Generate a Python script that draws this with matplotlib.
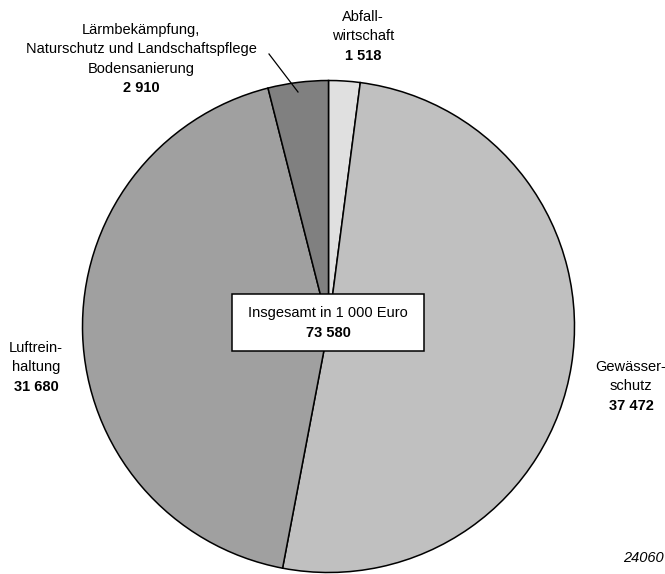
import matplotlib.pyplot as plt
from matplotlib.patches import Rectangle

# Umweltschutzausgaben in 1 000 Euro
categories = ['Abfall-\nwirtschaft', 'Gewässer-\nschutz', 'Luftrein-\nhaltung',
              'Lärmbekämpfung,\nNaturschutz und Landschaftspflege\nBodensanierung']
values = [1518, 37472, 31680, 2910]
colors = ['#e0e0e0', '#c0c0c0', '#a0a0a0', '#808080']
total_label = 'Insgesamt in 1 000 Euro'
code = '24060'

W, H = 665, 574


def fmt(v):
    return f'{v:,}'.replace(',', ' ')


plt.rcParams['font.family'] = ['Liberation Sans', 'DejaVu Sans']

fig = plt.figure(figsize=(W / 100, H / 100), dpi=100)
ax = fig.add_axes([0, 0, 1, 1])
ax.set_xlim(0, W)
ax.set_ylim(0, H)
ax.set_aspect('equal')
ax.axis('off')

ax.pie(values, colors=colors, startangle=90, counterclock=False,
       center=(328.5, H - 326.5), radius=246,
       wedgeprops={'edgecolor': 'black', 'linewidth': 1.1})
ax.set_xlim(0, W)
ax.set_ylim(0, H)

# label positions (pixel coords from top-left): centre x, top line centre y
label_pos = [(363, 17), (631, 367), (36, 348), (141, 30)]
fs = 10.5
step = 19.5
for name, v, (x, y) in zip(categories, values, label_pos):
    lines = name.split('\n')
    for i, line in enumerate(lines):
        ax.text(x, H - (y + i * step), line, ha='center', va='center', fontsize=fs)
    ax.text(x, H - (y + len(lines) * step), fmt(v), ha='center', va='center',
            fontsize=fs, fontweight='bold')

# leader line for the small slice
ax.plot([269, 298], [H - 54, H - 92], color='black', lw=0.9)

# total box in the middle
ax.add_patch(Rectangle((232, H - 351), 192, 57, facecolor='white',
                       edgecolor='black', lw=1.1, zorder=5))
ax.text(328, H - 313, total_label, ha='center', va='center', fontsize=fs, zorder=6)
ax.text(328, H - 333, fmt(sum(values)), ha='center', va='center', fontsize=fs,
        fontweight='bold', zorder=6)

ax.text(664, H - 558, code, ha='right', va='center', fontsize=fs, style='italic')

fig.savefig('out.png', dpi=100)
